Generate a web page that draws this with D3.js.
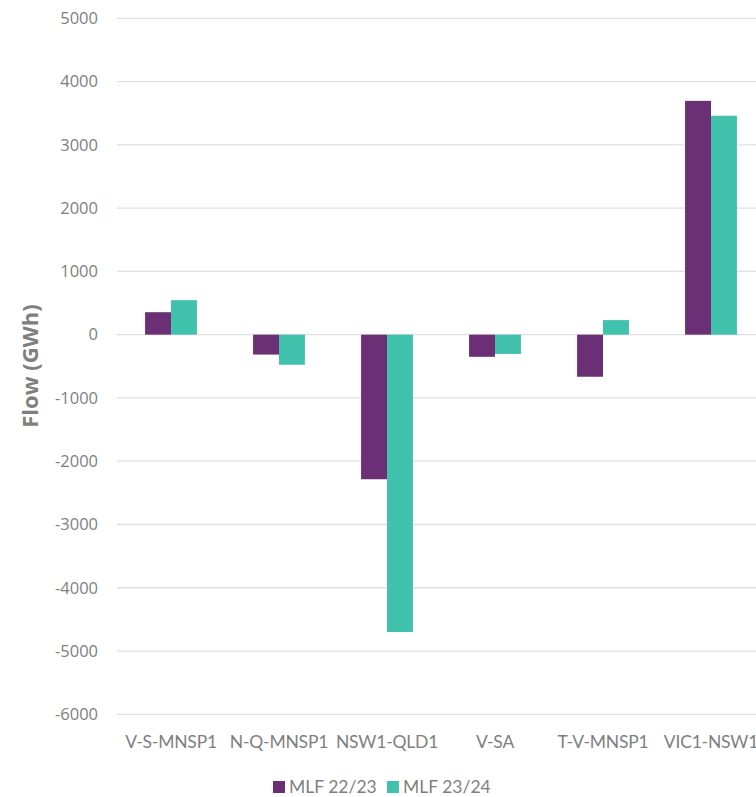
<!DOCTYPE html>
<html lang="en">
<head>
    <meta charset="UTF-8"/>
    <title>Interconnector flow</title>
    <style>
        body { margin: 0; background: #fff; }
        svg text { fill: #7f7f7f; }
    </style>
</head>
<body>
<svg id="chart" width="756" height="797"></svg>

<script src="https://d3js.org/d3.v7.min.js"></script>
<script type="text/javascript">

    // values (GWh)
    var categories = ["V-S-MNSP1", "N-Q-MNSP1", "NSW1-QLD1", "V-SA", "T-V-MNSP1", "VIC1-NSW1"];
    var seriesNames = ["MLF 22/23", "MLF 23/24"];
    var mlf2223 = [355, -315, -2285, -350, -665, 3695];
    var mlf2324 = [545, -475, -4700, -305, 230, 3460];
    var yTicks = [5000, 4000, 3000, 2000, 1000, 0, -1000, -2000, -3000, -4000, -5000, -6000];
    var colors = ["#6b2f76", "#41c2ac"];

    let svg = d3.select("#chart");

    // plot area runs past the right edge, as in the original crop
    let plotLeft = 117, plotRight = 765, plotTop = 18.3, plotBottom = 714.3;

    let x = d3.scaleBand()
        .domain(categories)
        .range([plotLeft, plotRight])
        .paddingInner(0.52)
        .paddingOuter(0.26);

    let xs = d3.scaleBand()
        .domain(seriesNames)
        .range([0, x.bandwidth()]);

    let y = d3.scaleLinear()
        .domain([-6000, 5000])
        .range([plotBottom, plotTop]);

    // gridlines
    svg.append("g")
        .selectAll("line")
        .data(yTicks)
        .enter().append("line")
        .attr("x1", plotLeft)
        .attr("x2", plotRight)
        .attr("y1", d => y(d))
        .attr("y2", d => y(d))
        .style("stroke", "#e0e0e0")
        .style("stroke-width", 1.3);

    // y axis labels (plain hyphen for minus, like the original)
    let yAxis = svg.append("g")
        .attr("transform", "translate(" + (plotLeft - 19) + ",0)")
        .call(d3.axisLeft(y).tickValues(yTicks).tickSize(0).tickFormat(d => String(d)));
    yAxis.select(".domain").remove();
    yAxis.selectAll("text")
        .attr("x", 0)
        .style("font-family", "'Open Sans', sans-serif")
        .style("font-size", "16.5px")
        .style("fill", "#7f7f7f");

    // bars
    let series = [mlf2223, mlf2324];
    series.forEach(function (vals, si) {
        svg.append("g")
            .selectAll("rect")
            .data(vals)
            .enter().append("rect")
            .attr("x", (d, i) => x(categories[i]) + xs(seriesNames[si]))
            .attr("width", xs.bandwidth())
            .attr("y", d => y(Math.max(0, d)))
            .attr("height", d => Math.abs(y(d) - y(0)))
            .style("fill", colors[si]);
    });

    // category labels
    let xAxis = svg.append("g")
        .attr("transform", "translate(0," + (plotBottom + 18) + ")")
        .call(d3.axisBottom(x).tickSize(0));
    xAxis.select(".domain").remove();
    xAxis.selectAll("text")
        .style("font-family", "Lato, sans-serif")
        .style("font-size", "17.5px")
        .style("letter-spacing", "-0.2px")
        .style("fill", "#7f7f7f");

    // y axis title
    svg.append("text")
        .attr("transform", "translate(38,366) rotate(-90)")
        .attr("text-anchor", "middle")
        .style("font-family", "'Open Sans', sans-serif")
        .style("font-weight", "bold")
        .style("font-size", "22px")
        .style("fill", "#7f7f7f")
        .text("Flow (GWh)");

    // legend
    let legendX = [273, 387];
    let legend = svg.append("g");
    seriesNames.forEach(function (name, i) {
        legend.append("rect")
            .attr("x", legendX[i])
            .attr("y", 781)
            .attr("width", 12)
            .attr("height", 12)
            .style("fill", colors[i]);
        legend.append("text")
            .attr("x", legendX[i] + 16)
            .attr("y", 793)
            .style("font-family", "Lato, sans-serif")
            .style("font-size", "17.5px")
            .style("fill", "#7f7f7f")
            .text(name);
    });
</script>
</body>
</html>
